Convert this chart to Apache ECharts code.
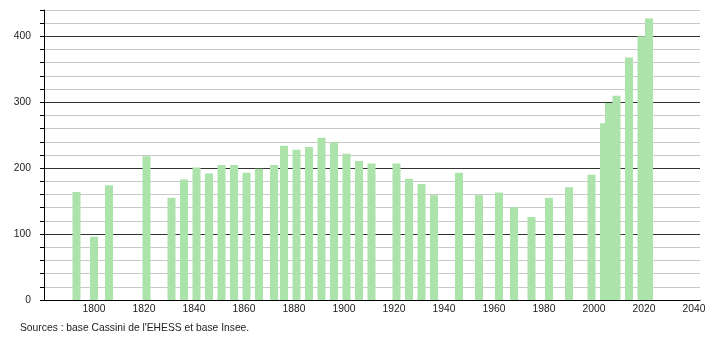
<!DOCTYPE html>
<html>
<head>
<meta charset="utf-8">
<script src="https://cdn.jsdelivr.net/npm/echarts@6/dist/echarts.min.js"></script>
<style>
html,body{margin:0;padding:0;background:#fff;}
#chart{width:710px;height:340px;}
</style>
</head>
<body>
<div id="chart"></div>
<script>
const years = [1793,1800,1806,1821,1831,1836,1841,1846,1851,1856,1861,1866,1872,1876,1881,1886,1891,1896,1901,1906,1911,1921,1926,1931,1936,1946,1954,1962,1968,1975,1982,1990,1999,2004,2006,2009,2014,2019,2022];
const population = [164,96,174,218,155,183,201,192,205,205,193,199,205,234,228,232,246,239,222,211,207,207,184,176,159,193,159,163,141,126,155,171,190,268,299,310,368,400,427];
const xTickLabels = [1800,1820,1840,1860,1880,1900,1920,1940,1960,1980,2000,2020,2040];
const yTickLabels = [0,100,200,300,400];
const sourceText = "Sources : base Cassini de l'EHESS et base Insee.";

const chart = echarts.init(document.getElementById('chart'), null, {renderer:'canvas'});
const font = 'Liberation Sans, Arial, sans-serif';
chart.setOption({
  animation:false,
  backgroundColor:'#fff',
  grid:{left:44, top:10, width:656, height:290, containLabel:false},
  xAxis:{
    type:'value', min:1780, max:2042.4, interval:20,
    axisLine:{show:true, lineStyle:{color:'#000', width:1}},
    axisTick:{show:false},
    splitLine:{show:false},
    axisLabel:{
      color:'#222', fontFamily:font, fontSize:10.3, margin:4,
      showMinLabel:true, showMaxLabel:true,
      formatter:function(v){ return xTickLabels.indexOf(v) >= 0 ? String(v) : ''; }
    }
  },
  yAxis:{
    type:'value', min:0, max:440, interval:20,
    axisLine:{show:true, lineStyle:{color:'#000', width:1}},
    axisTick:{show:true, inside:false, length:4, lineStyle:{color:'#000'}},
    splitLine:{show:true, lineStyle:{color:['#333','#c8c8c8','#c8c8c8','#c8c8c8','#c8c8c8'], width:1}},
    axisLabel:{
      color:'#222', fontFamily:font, fontSize:10.3, margin:13,
      formatter:function(v){ return yTickLabels.indexOf(v) >= 0 ? String(v) : ''; }
    }
  },
  series:[{
    type:'bar',
    barWidth:8,
    itemStyle:{color:'#abe3ab'},
    data: years.map((y,i)=>[y, population[i]])
  }],
  graphic:[{
    type:'text', left:20, top:323,
    style:{text:sourceText, fill:'#222', font:'10.3px ' + font}
  }]
});
</script>
</body>
</html>
